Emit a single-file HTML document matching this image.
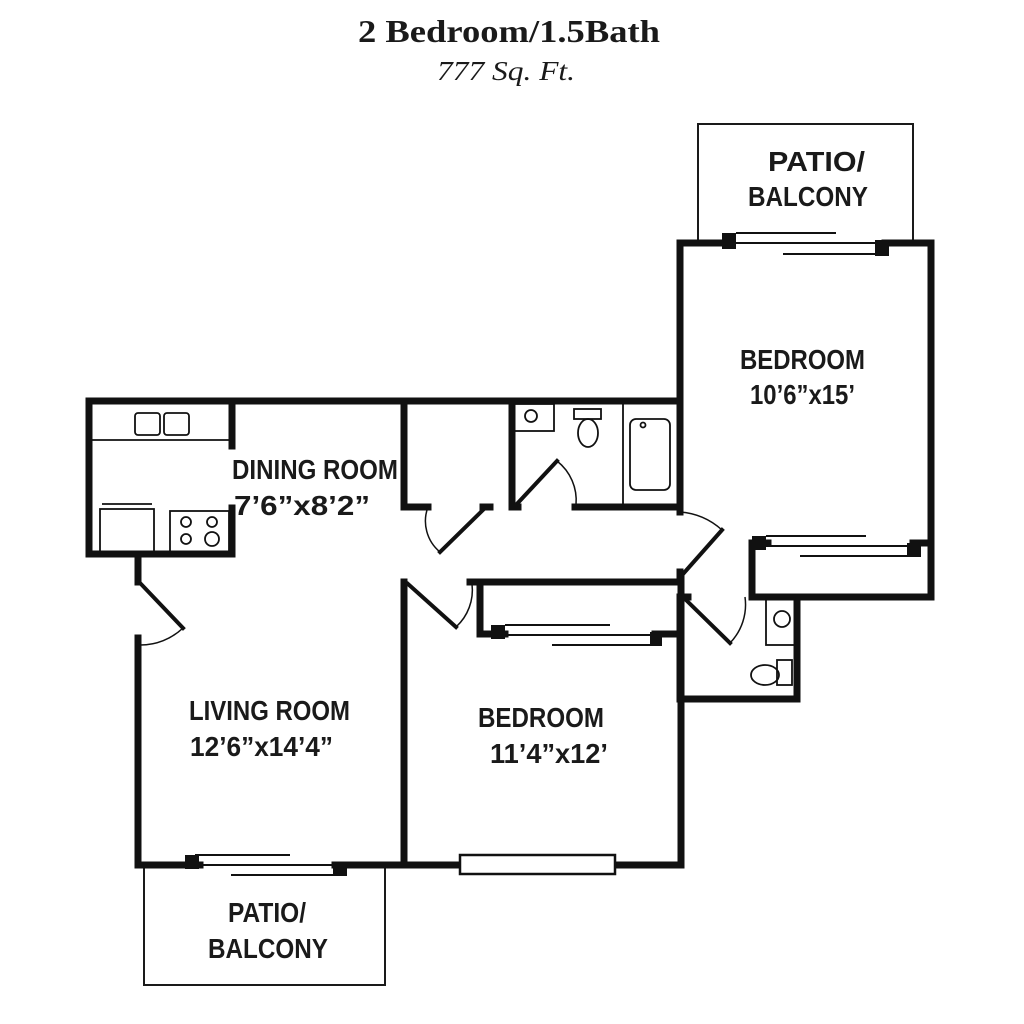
<!DOCTYPE html>
<html><head><meta charset="utf-8"><style>
html,body{margin:0;padding:0;background:#fff;}
svg{display:block;}
.r{font-family:"Liberation Sans",sans-serif;font-weight:bold;font-size:28px;fill:#1a1a1a;}
</style></head><body>
<svg width="1024" height="1024" viewBox="0 0 1024 1024" xmlns="http://www.w3.org/2000/svg">
<rect width="1024" height="1024" fill="#fff"/>
<text x="509" y="42" text-anchor="middle" font-family="Liberation Serif,serif" font-weight="bold" font-size="32" fill="#1a1a1a" textLength="302" lengthAdjust="spacingAndGlyphs">2 Bedroom/1.5Bath</text>
<text x="506" y="80" text-anchor="middle" font-family="Liberation Serif,serif" font-style="italic" font-size="27" fill="#1a1a1a" textLength="138" lengthAdjust="spacingAndGlyphs">777 Sq. Ft.</text>

<g fill="none" stroke="#1a1a1a" stroke-width="2">
<polyline points="698,242 698,124 913,124 913,242"/>
<polyline points="144,866 144,985 385,985 385,866"/>
</g>

<g stroke="#111" stroke-width="7" fill="none" stroke-linecap="square">
<line x1="89" y1="401" x2="680" y2="401"/>
<line x1="89" y1="401" x2="89" y2="554"/>
<line x1="89" y1="554" x2="232" y2="554"/>
<line x1="232" y1="401" x2="232" y2="446"/>
<line x1="232" y1="508" x2="232" y2="554"/>
<line x1="138" y1="554" x2="138" y2="582"/>
<line x1="138" y1="638" x2="138" y2="865"/>
<line x1="138" y1="865" x2="200" y2="865"/>
<line x1="335" y1="865" x2="460" y2="865"/>
<line x1="615" y1="865" x2="681" y2="865"/>
<line x1="404" y1="582" x2="404" y2="865"/>
<line x1="681" y1="577" x2="681" y2="865"/>
<line x1="470" y1="582" x2="681" y2="582"/>
<line x1="480" y1="582" x2="480" y2="634"/>
<line x1="480" y1="634" x2="505" y2="634"/>
<line x1="655" y1="634" x2="681" y2="634"/>
<line x1="404" y1="401" x2="404" y2="507"/>
<line x1="404" y1="507" x2="428" y2="507"/>
<line x1="483" y1="507" x2="490" y2="507"/>
<line x1="512" y1="401" x2="512" y2="507"/>
<line x1="512" y1="507" x2="518" y2="507"/>
<line x1="575" y1="507" x2="680" y2="507"/>
<line x1="680" y1="243" x2="680" y2="512"/>
<line x1="680" y1="243" x2="725" y2="243"/>
<line x1="885" y1="243" x2="931" y2="243"/>
<line x1="931" y1="243" x2="931" y2="597"/>
<line x1="755" y1="597" x2="931" y2="597"/>
<line x1="752" y1="543" x2="752" y2="597"/>
<line x1="752" y1="543" x2="768" y2="543"/>
<line x1="913" y1="543" x2="931" y2="543"/>
<line x1="680" y1="572" x2="680" y2="578"/>
<line x1="680" y1="597" x2="680" y2="699"/>
<line x1="680" y1="699" x2="797" y2="699"/>
<line x1="797" y1="597" x2="797" y2="699"/>
<line x1="680" y1="597" x2="688" y2="597"/>
</g>

<g fill="#111">
<rect x="722" y="233" width="14" height="16"/><rect x="875" y="240" width="14" height="16"/>
<rect x="185" y="855" width="14" height="14"/><rect x="333" y="862" width="14" height="14"/>
<rect x="491" y="625" width="14" height="14"/><rect x="650" y="632" width="12" height="14"/>
<rect x="752" y="536" width="14" height="14"/><rect x="907" y="543" width="14" height="14"/>
</g>
<g stroke="#111" stroke-width="2">
<line x1="736" y1="233" x2="836" y2="233"/><line x1="736" y1="243" x2="890" y2="243"/><line x1="783" y1="254" x2="877" y2="254"/>
<line x1="195" y1="855" x2="290" y2="855"/><line x1="200" y1="865" x2="338" y2="865"/><line x1="231" y1="875" x2="335" y2="875"/>
<line x1="505" y1="625" x2="610" y2="625"/><line x1="505" y1="635" x2="655" y2="635"/><line x1="552" y1="645" x2="650" y2="645"/>
<line x1="766" y1="536" x2="866" y2="536"/><line x1="766" y1="546" x2="910" y2="546"/><line x1="800" y1="556" x2="907" y2="556"/>
</g>
<rect x="460" y="855" width="155" height="19" fill="#fff" stroke="#111" stroke-width="2.5"/>

<g stroke="#111" stroke-width="4" stroke-linecap="square">
<line x1="140" y1="583" x2="183" y2="628"/>
<line x1="440" y1="552" x2="485" y2="508"/>
<line x1="515" y1="506" x2="557" y2="461"/>
<line x1="683" y1="574" x2="722" y2="530"/>
<line x1="408" y1="584" x2="456" y2="627"/>
<line x1="683" y1="597" x2="730" y2="643"/>
</g>
<g stroke="#111" stroke-width="1.5" fill="none">
<path d="M183,628 A62,62 0 0 1 140,645"/>
<path d="M428,507 A40,40 0 0 0 440,552"/>
<path d="M557,461 A50,50 0 0 1 576,505"/>
<path d="M680,512 A70,70 0 0 1 722,530"/>
<path d="M456,627 A50,50 0 0 0 472,584"/>
<path d="M730,643 A55,55 0 0 0 745,597"/>
</g>

<g stroke="#111" stroke-width="1.8" fill="none">
<line x1="92" y1="440" x2="229" y2="440"/>
<rect x="135" y="413" width="25" height="22" rx="3"/>
<rect x="164" y="413" width="25" height="22" rx="3"/>
<rect x="100" y="509" width="54" height="43"/>
<line x1="102" y1="504" x2="152" y2="504"/>
<rect x="170" y="511" width="59" height="41"/>
<circle cx="186" cy="522" r="5"/><circle cx="212" cy="522" r="5"/>
<circle cx="186" cy="539" r="5"/><circle cx="212" cy="539" r="7"/>
<rect x="514" y="404" width="40" height="27"/>
<circle cx="531" cy="416" r="6"/>
<rect x="574" y="409" width="27" height="10"/>
<ellipse cx="588" cy="433" rx="10" ry="14"/>
<line x1="623" y1="404" x2="623" y2="505"/>
<rect x="630" y="419" width="40" height="71" rx="6"/>
<circle cx="643" cy="425" r="2.5"/>
<rect x="766" y="598" width="29" height="47"/>
<circle cx="782" cy="619" r="8"/>
<rect x="777" y="660" width="15" height="25"/>
<ellipse cx="765" cy="675" rx="14" ry="10"/>
</g>

<text class="r" x="232" y="479" textLength="166" lengthAdjust="spacingAndGlyphs">DINING ROOM</text>
<text class="r" x="234" y="515" textLength="136" lengthAdjust="spacingAndGlyphs">7’6”x8’2”</text>
<text class="r" x="740" y="369" textLength="125" lengthAdjust="spacingAndGlyphs">BEDROOM</text>
<text class="r" x="750" y="404" textLength="105" lengthAdjust="spacingAndGlyphs">10’6”x15’</text>
<text class="r" x="189" y="720" textLength="161" lengthAdjust="spacingAndGlyphs">LIVING ROOM</text>
<text class="r" x="190" y="756" textLength="143" lengthAdjust="spacingAndGlyphs">12’6”x14’4”</text>
<text class="r" x="478" y="727" textLength="126" lengthAdjust="spacingAndGlyphs">BEDROOM</text>
<text class="r" x="490" y="763" textLength="118" lengthAdjust="spacingAndGlyphs">11’4”x12’</text>
<text class="r" x="768" y="171" textLength="97" lengthAdjust="spacingAndGlyphs">PATIO/</text>
<text class="r" x="748" y="206" textLength="120" lengthAdjust="spacingAndGlyphs">BALCONY</text>
<text class="r" x="228" y="922" textLength="78" lengthAdjust="spacingAndGlyphs">PATIO/</text>
<text class="r" x="208" y="958" textLength="120" lengthAdjust="spacingAndGlyphs">BALCONY</text>
</svg>
</body></html>
